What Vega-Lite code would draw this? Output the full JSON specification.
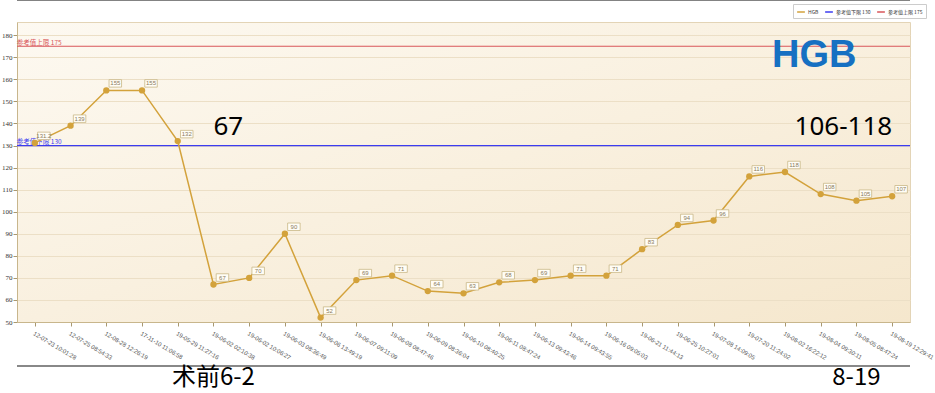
{
  "$schema": "https://vega.github.io/schema/vega-lite/v6.json",
  "autosize": {"type": "none"},
  "width": 893,
  "height": 300,
  "padding": {"left": 17, "top": 22, "right": 25, "bottom": 71},
  "background": "white",
  "config": {
    "view": {"stroke": "#e3d4b6", "strokeWidth": 1, "fill": {"gradient": "linear", "x1": 0, "y1": 0, "x2": 1, "y2": 1, "stops": [{"offset": 0, "color": "#fdf9f1"}, {"offset": 1, "color": "#f5e7cd"}]}},
    "font": "Liberation Sans",
    "legend": {"orient": "none", "legendX": 776, "legendY": -18, "direction": "horizontal", "labelFontSize": 5, "labelFont": "Noto Sans CJK SC", "labelColor": "#333", "symbolType": "stroke", "symbolSize": 60, "symbolStrokeWidth": 1.5, "strokeColor": "#cccccc", "fillColor": "#ffffff", "padding": 3, "columnPadding": 3, "labelOffset": 2}
  },
  "datasets": {
    "hgb": [
      {"t": "12-07-23 10:01:28", "v": 131.2},
      {"t": "12-07-25 08:54:33", "v": 139},
      {"t": "12-08-28 12:26:19", "v": 155},
      {"t": "17-11-10 11:06:58", "v": 155},
      {"t": "19-05-29 11:27:16", "v": 132},
      {"t": "19-06-02 02:10:38", "v": 67},
      {"t": "19-06-02 10:06:27", "v": 70},
      {"t": "19-06-03 08:36:49", "v": 90},
      {"t": "19-06-06 13:49:19", "v": 52},
      {"t": "19-06-07 09:11:09", "v": 69},
      {"t": "19-06-08 08:47:46", "v": 71},
      {"t": "19-06-09 08:36:04", "v": 64},
      {"t": "19-06-10 08:40:25", "v": 63},
      {"t": "19-06-11 08:47:24", "v": 68},
      {"t": "19-06-13 09:43:46", "v": 69},
      {"t": "19-06-14 09:43:55", "v": 71},
      {"t": "19-06-16 09:05:03", "v": 71},
      {"t": "19-06-21 11:44:13", "v": 83},
      {"t": "19-06-25 10:27:01", "v": 94},
      {"t": "19-07-08 14:09:05", "v": 96},
      {"t": "19-07-20 11:24:02", "v": 116},
      {"t": "19-08-02 16:22:12", "v": 118},
      {"t": "19-08-04 09:30:11", "v": 108},
      {"t": "19-08-05 08:47:24", "v": 105},
      {"t": "19-08-19 12:29:41", "v": 107}
    ],
    "refs": [
      {"name": "参考值下限 130", "v": 130},
      {"name": "参考值上限 175", "v": 175}
    ]
  },
  "encoding": {
    "x": {
      "field": "t", "type": "nominal", "sort": null,
      "scale": {"type": "point", "padding": 0.5},
      "axis": {"title": null, "labelAngle": 31, "labelAlign": "left", "labelBaseline": "top", "labelFontSize": 6, "labelColor": "#555", "labelPadding": 4, "tickSize": 4, "tickColor": "#a89870", "domainColor": "#c8b68c", "grid": false, "labelOverlap": false}
    },
    "y": {
      "field": "v", "type": "quantitative",
      "scale": {"domain": [50, 186], "nice": false, "zero": false},
      "axis": {"title": null, "values": [50, 60, 70, 80, 90, 100, 110, 120, 130, 140, 150, 160, 170, 180], "labelFont": "Liberation Serif", "labelFontSize": 7, "labelColor": "#333", "tickSize": 4, "tickColor": "#a89870", "domainColor": "#c8b68c", "gridColor": "#ecdfc6", "gridWidth": 1, "labelPadding": 1}
    }
  },
  "layer": [
    {
      "data": {"values": [{"y": 195.9}]},
      "mark": {"type": "rule", "color": "#444", "strokeWidth": 1},
      "encoding": {"x": null, "y": {"field": "y", "type": "quantitative"}}
    },
    {
      "data": {"values": [{"y": 30}]},
      "mark": {"type": "rule", "color": "#888", "strokeWidth": 2},
      "encoding": {"x": null, "y": {"field": "y", "type": "quantitative"}}
    },
    {
      "data": {"name": "refs"},
      "mark": {"type": "rule", "strokeWidth": 1.2},
      "encoding": {
        "x": null,
        "y": {"field": "v", "type": "quantitative"},
        "color": {"field": "name", "type": "nominal", "title": null, "scale": {"domain": ["HGB", "参考值下限 130", "参考值上限 175"], "range": ["#d3a23b", "#3c3cf0", "#d9565a"]}}
      }
    },
    {
      "data": {"name": "refs"},
      "mark": {"type": "text", "align": "left", "baseline": "bottom", "dx": -18, "dy": -0.5, "fontSize": 6.5, "font": "Noto Sans CJK SC"},
      "encoding": {
        "x": {"datum": "12-07-23 10:01:28"},
        "y": {"field": "v", "type": "quantitative"},
        "text": {"field": "name"},
        "color": {"field": "name", "type": "nominal", "title": null}
      }
    },
    {
      "data": {"name": "hgb"},
      "mark": {"type": "line", "strokeWidth": 1.5},
      "encoding": {"color": {"datum": "HGB", "type": "nominal", "title": null}}
    },
    {
      "data": {"name": "hgb"},
      "mark": {"type": "point", "filled": true, "color": "#d3a23b", "size": 40, "opacity": 1}
    },
    {
      "data": {"name": "hgb"},
      "mark": {"type": "point", "shape": "M-1.25,-0.75H1.25V0.75H-1.25Z", "size": 100, "filled": true, "fill": "#fffdf6", "stroke": "#c9b787", "strokeWidth": 0.8, "opacity": 1, "xOffset": 9, "yOffset": -7}
    },
    {
      "data": {"name": "hgb"},
      "mark": {"type": "text", "align": "center", "baseline": "middle", "dx": 9, "dy": -7, "fontSize": 6, "color": "#8a7a60"},
      "encoding": {"text": {"field": "v"}}
    },
    {
      "data": {"values": [{"t": "19-08-05 08:47:24", "y": 170.5, "txt": "HGB"}]},
      "mark": {"type": "text", "align": "right", "baseline": "middle", "fontSize": 38, "fontWeight": "bold", "font": "Liberation Sans", "color": "#1670c2"},
      "encoding": {"x": {"field": "t"}, "y": {"field": "y", "type": "quantitative"}, "text": {"field": "txt"}}
    },
    {
      "data": {"values": [{"t": "19-06-02 02:10:38", "y": 138.6, "txt": "67"}]},
      "mark": {"type": "text", "align": "left", "baseline": "middle", "fontSize": 26, "font": "Noto Sans", "color": "#000"},
      "encoding": {"x": {"field": "t"}, "y": {"field": "y", "type": "quantitative"}, "text": {"field": "txt"}}
    },
    {
      "data": {"values": [{"t": "19-08-19 12:29:41", "y": 138.6, "txt": "106-118"}]},
      "mark": {"type": "text", "align": "right", "baseline": "middle", "fontSize": 26, "font": "Noto Sans", "color": "#000"},
      "encoding": {"x": {"field": "t"}, "y": {"field": "y", "type": "quantitative"}, "text": {"field": "txt"}}
    },
    {
      "data": {"values": [{"t": "19-06-02 02:10:38", "y": 24.5, "txt": "术前6-2"}, {"t": "19-08-05 08:47:24", "y": 24.5, "txt": "8-19"}]},
      "mark": {"type": "text", "align": "center", "baseline": "middle", "fontSize": 24, "font": "Noto Sans CJK SC", "color": "#000"},
      "encoding": {"x": {"field": "t"}, "y": {"field": "y", "type": "quantitative"}, "text": {"field": "txt"}}
    }
  ]
}
